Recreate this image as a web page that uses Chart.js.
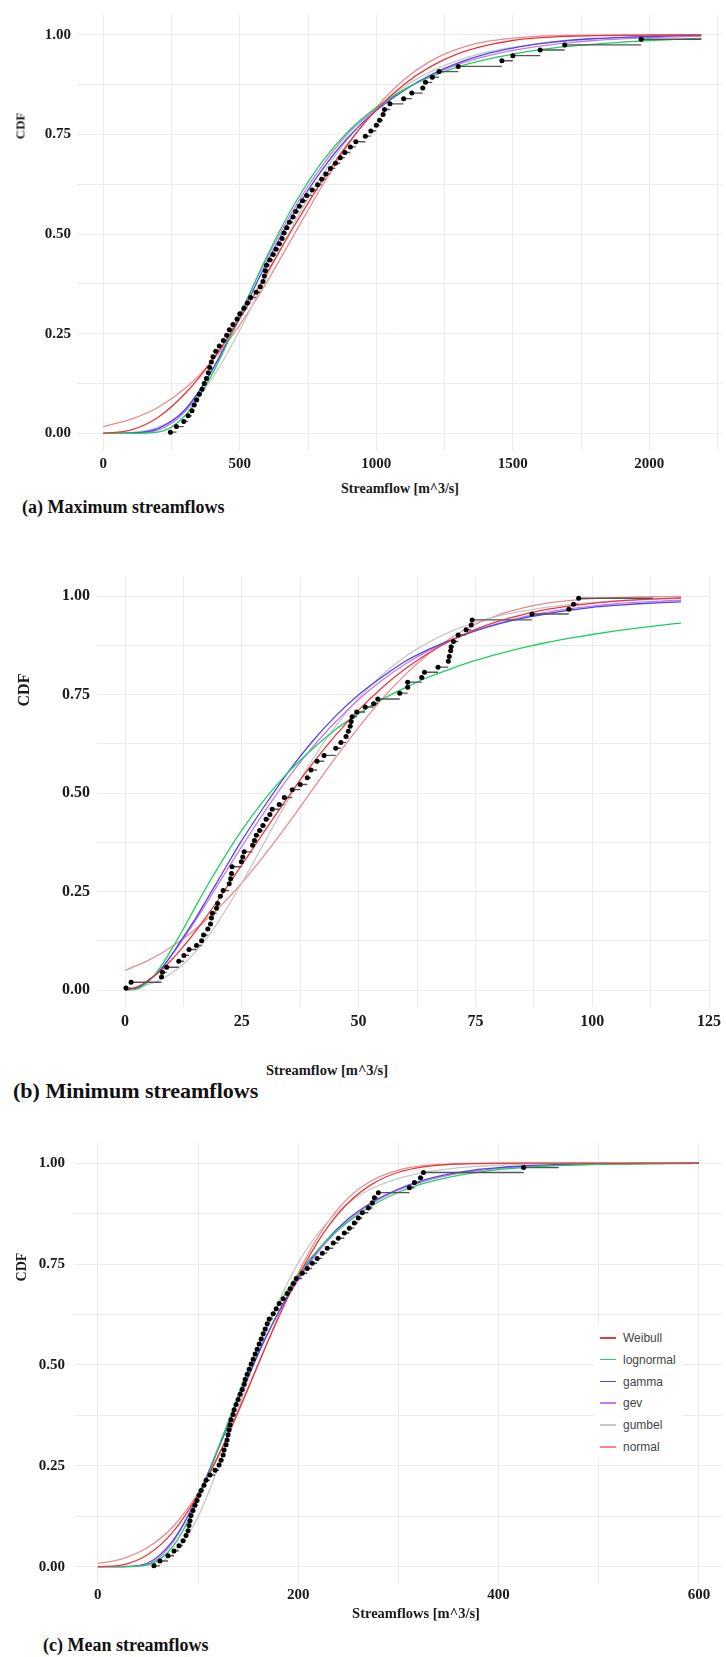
<!DOCTYPE html>
<html><head><meta charset="utf-8">
<script src="https://cdn.jsdelivr.net/npm/chart.js@4.4.0/dist/chart.umd.min.js"></script>
<style>
html,body{margin:0;padding:0;background:#fff;}
body{width:726px;height:1657px;position:relative;overflow:hidden;font-family:"Liberation Serif","Times New Roman",serif;}
canvas{position:absolute;left:0;}
.t{position:absolute;font-weight:bold;color:#1a1a1a;white-space:nowrap;line-height:1;transform:translate(-50%,-50%);}
.cap{position:absolute;font-weight:bold;color:#111;white-space:nowrap;line-height:1;transform:translateY(-50%);}
.rot{position:absolute;font-weight:bold;color:#1a1a1a;white-space:nowrap;line-height:1;transform:translate(-50%,-50%) rotate(-90deg);}
#legend{position:absolute;left:594px;top:1326px;width:88px;height:132px;background:#fff;font-family:"Liberation Sans",Arial,sans-serif;font-size:12px;color:#444;}
#legend .row{position:absolute;left:0;height:14px;}
#legend .ln{position:absolute;left:6px;top:6px;width:16px;height:1.5px;}
#legend .lb{position:absolute;left:29px;top:0;line-height:14px;}
</style>
</head><body>
<canvas id="cA" width="726" height="480" style="top:0px"></canvas>
<canvas id="cB" width="726" height="480" style="top:560px"></canvas>
<canvas id="cC" width="726" height="490" style="top:1124px"></canvas>

<div class="rot" style="left:20px;top:126px;font-size:13px">CDF</div>
<div class="t" style="left:400px;top:489px;font-size:14px">Streamflow [m^3/s]</div>
<div class="cap" style="left:22px;top:507px;font-size:18px">(a) Maximum streamflows</div>

<div class="rot" style="left:24px;top:690px;font-size:16px">CDF</div>
<div class="t" style="left:327px;top:1070px;font-size:14.5px">Streamflow [m^3/s]</div>
<div class="cap" style="left:13px;top:1091px;font-size:22px">(b) Minimum streamflows</div>

<div class="rot" style="left:22px;top:1267px;font-size:14px">CDF</div>
<div class="t" style="left:416px;top:1613px;font-size:14.5px">Streamflows [m^3/s]</div>
<div class="cap" style="left:43px;top:1645px;font-size:18px">(c) Mean streamflows</div>

<div id="legend"></div>

<script>
// ---------- shared ----------
const seriesNames  = ['Weibull','lognormal','gamma','gev','gumbel','normal'];
const seriesColors = ['#e8383d','#1fd05a','#4a48e8','#cc77ee','#c8c8c8','#ee8a8a'];
const yTickValues = [0,0.125,0.25,0.375,0.5,0.625,0.75,0.875,1];
const yTickLabels = ['0.00','','0.25','','0.50','','0.75','','1.00'];

// ---------- (a) maximum streamflows ----------
const maxGrid = [0,100,200,300,400,500,600,700,800,900,1000,1100,1200,1300,1400,1500,1600,1700,1800,1900,2000,2100,2190];
const maxWeibull   = [0,0.008,0.040,0.100,0.184,0.288,0.403,0.521,0.632,0.730,0.812,0.875,0.921,0.953,0.973,0.986,0.993,0.9965,0.998,0.999,0.9995,0.9998,0.9999];
const maxLognormal = [0,0,0.003,0.045,0.15,0.295,0.445,0.575,0.68,0.76,0.818,0.862,0.895,0.92,0.938,0.952,0.963,0.971,0.977,0.982,0.986,0.989,0.991];
const maxGamma     = [0,0.001,0.012,0.06,0.16,0.29,0.43,0.555,0.66,0.745,0.81,0.86,0.9,0.93,0.952,0.967,0.978,0.986,0.991,0.994,0.996,0.998,0.999];
const maxGev       = [0,0,0.008,0.055,0.16,0.3,0.44,0.565,0.67,0.755,0.815,0.862,0.898,0.926,0.946,0.961,0.972,0.98,0.986,0.99,0.993,0.995,0.997];
const maxGumbel    = [0.0001,0.0022,0.015,0.056,0.139,0.259,0.396,0.529,0.647,0.742,0.815,0.869,0.908,0.936,0.956,0.969,0.979,0.9855,0.990,0.9932,0.9953,0.9968,0.9978];
const maxNormal    = [0.017,0.035,0.065,0.113,0.182,0.272,0.381,0.5,0.619,0.728,0.818,0.887,0.935,0.965,0.983,0.992,0.997,0.999,0.9996,0.9999,1,1,1];
const maxObs = [246,268,295,311,325,333,342,352,362,370,378,385,390,396,402,412,425,440,452,462,475,490,500,515,528,540,560,575,585,590,594,598,610,622,633,645,655,662,672,682,695,705,718,730,745,765,785,800,815,832,850,868,885,905,925,960,980,1000,1012,1025,1030,1050,1100,1130,1170,1180,1205,1230,1300,1460,1500,1600,1690,1970];
const maxObsCdf = [0.003,0.017,0.030,0.044,0.057,0.071,0.084,0.098,0.111,0.125,0.138,0.152,0.165,0.179,0.192,0.206,0.219,0.233,0.246,0.260,0.273,0.287,0.300,0.314,0.327,0.341,0.354,0.368,0.381,0.395,0.408,0.422,0.435,0.449,0.462,0.476,0.489,0.503,0.516,0.530,0.543,0.557,0.570,0.584,0.597,0.611,0.624,0.638,0.651,0.665,0.678,0.692,0.705,0.719,0.732,0.746,0.759,0.773,0.786,0.800,0.813,0.827,0.840,0.854,0.867,0.881,0.894,0.908,0.921,0.935,0.948,0.962,0.975,0.989];
const maxObsEnd = 2190;
const maxXTicks = [0,250,500,750,1000,1250,1500,1750,2000,2250];
const maxXLabels = ['0','','500','','1000','','1500','','2000',''];

// ---------- (b) minimum streamflows ----------
const minGrid = [0,2.5,5,7.5,10,12.5,15,17.5,20,25,30,35,40,45,50,55,60,65,70,75,80,85,90,95,100,105,110,115,119];
const minWeibull   = [0,0.0076,0.0245,0.048,0.077,0.111,0.148,0.188,0.23,0.318,0.406,0.492,0.573,0.646,0.711,0.768,0.816,0.856,0.889,0.916,0.937,0.953,0.966,0.975,0.982,0.9876,0.9913,0.994,0.9956];
const minLognormal = [0,0.0026,0.021,0.057,0.104,0.156,0.21,0.263,0.313,0.406,0.486,0.554,0.611,0.661,0.702,0.738,0.768,0.795,0.817,0.837,0.854,0.869,0.882,0.893,0.903,0.912,0.92,0.927,0.932];
const minGamma     = [0,0.005,0.025,0.05,0.09,0.135,0.18,0.23,0.28,0.38,0.47,0.555,0.63,0.695,0.75,0.795,0.835,0.865,0.89,0.912,0.93,0.944,0.955,0.964,0.972,0.977,0.981,0.984,0.986];
const minGev       = [0,0.006,0.025,0.052,0.088,0.13,0.175,0.222,0.27,0.365,0.455,0.54,0.615,0.68,0.738,0.787,0.828,0.862,0.89,0.913,0.932,0.947,0.959,0.968,0.975,0.981,0.985,0.988,0.99];
const minGumbel    = [0.0034,0.0075,0.0146,0.026,0.043,0.066,0.0957,0.132,0.174,0.272,0.379,0.485,0.583,0.669,0.741,0.8,0.847,0.883,0.912,0.933,0.95,0.962,0.972,0.979,0.984,0.988,0.991,0.9935,0.995];
const minNormal    = [0.05,0.062,0.0755,0.0915,0.11,0.131,0.154,0.18,0.208,0.272,0.345,0.424,0.507,0.589,0.667,0.739,0.801,0.854,0.896,0.929,0.953,0.97,0.982,0.989,0.994,0.9967,0.9983,0.9991,0.9995];
const minObs = [0.2,1.3,7.8,8.0,8.9,11.5,12.6,13.7,15.3,16.4,16.8,17.7,18.3,18.5,18.7,19.6,19.8,20.4,21.0,22.3,22.6,22.8,22.9,24.9,25.2,25.5,27.3,27.7,28.1,28.8,29.5,30.2,31.0,31.5,33.0,34.1,35.8,37.5,39.0,39.8,41.1,42.6,45.1,46.2,47.3,47.8,48.2,48.4,48.6,49.6,51.4,53.2,54.1,58.8,60.5,60.5,63.5,64.1,67.0,69.2,69.4,69.7,69.8,70.3,71.3,73.0,74.1,74.3,87.1,95.0,96.0,97.1];
const minObsCdf = [0.005,0.02,0.033,0.045,0.058,0.073,0.088,0.103,0.113,0.125,0.14,0.155,0.168,0.183,0.195,0.208,0.22,0.238,0.253,0.27,0.283,0.296,0.313,0.326,0.338,0.351,0.368,0.38,0.393,0.405,0.418,0.434,0.446,0.459,0.471,0.489,0.509,0.522,0.539,0.559,0.581,0.596,0.614,0.629,0.644,0.657,0.67,0.682,0.694,0.706,0.719,0.727,0.739,0.754,0.769,0.782,0.794,0.807,0.82,0.835,0.847,0.862,0.872,0.885,0.902,0.915,0.927,0.94,0.955,0.967,0.98,0.995];
const minObsEnd = 113;
const minXTicks = [0,12.5,25,37.5,50,62.5,75,87.5,100,112.5,125];
const minXLabels = ['0','','25','','50','','75','','100','','125'];

// ---------- (c) mean streamflows ----------
const meanGrid = [0,25,50,75,100,125,150,175,200,225,250,275,300,325,350,375,400,425,450,475,500,525,550,575,600];
const meanWeibull   = [0,0.0046,0.030,0.086,0.178,0.300,0.443,0.588,0.719,0.826,0.902,0.950,0.9775,0.991,0.9968,0.999,0.9997,1,1,1,1,1,1,1,1];
const meanLognormal = [0,0,0.005,0.05,0.165,0.325,0.488,0.625,0.725,0.80,0.855,0.897,0.928,0.95,0.965,0.976,0.984,0.989,0.993,0.995,0.997,0.998,0.9986,0.999,0.9993];
const meanGamma     = [0,0.0003,0.009,0.065,0.175,0.32,0.47,0.605,0.715,0.80,0.862,0.905,0.936,0.958,0.973,0.983,0.989,0.993,0.996,0.9975,0.9985,0.999,0.9995,0.9997,0.9998];
const meanGev       = [0,0,0.006,0.06,0.175,0.325,0.475,0.605,0.71,0.795,0.858,0.902,0.933,0.955,0.97,0.98,0.987,0.991,0.994,0.996,0.9975,0.9985,0.999,0.9994,0.9996];
const meanGumbel    = [0,0.0001,0.0034,0.0316,0.123,0.28,0.463,0.626,0.753,0.842,0.901,0.939,0.962,0.977,0.986,0.9914,0.9948,0.9968,0.9981,0.9988,0.9993,0.9996,0.9997,0.9998,0.9999];
const meanNormal    = [0.0077,0.020,0.048,0.099,0.182,0.298,0.440,0.590,0.728,0.838,0.914,0.959,0.983,0.9938,0.998,0.9994,0.9999,1,1,1,1,1,1,1,1];
const meanObs = [56,62,70,76,81,85,88,90,91,92,93,95,97,99,101,103,106,108,112,117,121,123,125,126,128,129,130,131,132,133,135,136,138,140,142,144,146,147,149,151,153,155,157,159,161,163,165,167,169,171,175,178,181,185,189,192,195,198,204,209,214,219,224,229,235,240,246,251,256,260,264,270,274,276,280,311,316,322,325,425];
const meanObsCdf = [0.002,0.014,0.027,0.039,0.052,0.064,0.077,0.089,0.102,0.114,0.127,0.139,0.152,0.164,0.177,0.189,0.202,0.214,0.227,0.239,0.252,0.264,0.277,0.289,0.302,0.314,0.327,0.339,0.352,0.364,0.377,0.389,0.402,0.414,0.427,0.439,0.452,0.464,0.477,0.489,0.502,0.514,0.527,0.539,0.552,0.564,0.577,0.589,0.602,0.614,0.627,0.639,0.652,0.664,0.677,0.689,0.702,0.714,0.727,0.739,0.752,0.764,0.777,0.789,0.802,0.814,0.827,0.839,0.852,0.864,0.877,0.889,0.902,0.914,0.927,0.939,0.952,0.964,0.977,0.989];
const meanObsEnd = 460;
const meanXTicks = [0,100,200,300,400,500,600];
const meanXLabels = ['0','','200','','400','','600'];

// ---------- builder ----------
function pts(xs, ys){ return xs.map((x,i)=>({x:x, y:ys[i]})); }
function stepSegs(xs, ys, end){
  const out = [];
  for(let i=0;i<xs.length;i++){
    const nx = i < xs.length-1 ? xs[i+1] : end;
    out.push({x:xs[i], y:ys[i]}, {x:nx, y:ys[i]}, {x:nx, y:null});
  }
  return out;
}
const serifFont = '"Liberation Serif","Times New Roman",serif';

function build(id, o){
  const curves = o.curves.map((arr,k)=>({
    type:'line', label:seriesNames[k], data:pts(o.grid, arr),
    borderColor:seriesColors[k], borderWidth:1.3, pointRadius:0,
    cubicInterpolationMode:'monotone', fill:false, order:2+k
  }));
  const steps = {type:'line', label:'steps', data:stepSegs(o.obs, o.obsCdf, o.obsEnd),
    borderColor:'#555555', borderWidth:1.4, pointRadius:0, spanGaps:false, fill:false, order:1};
  const dots = {type:'scatter', label:'ecdf', data:pts(o.obs, o.obsCdf),
    backgroundColor:'#000', borderColor:'#000', pointRadius:2.5, borderWidth:0, order:0};
  return new Chart(document.getElementById(id), {
    type:'scatter',
    data:{datasets:[dots, steps, ...curves]},
    options:{
      responsive:false, animation:false, devicePixelRatio:1,
      layout:{padding:{top:o.padTop, right:o.padRight, left:0, bottom:0}},
      plugins:{legend:{display:false}, tooltip:{enabled:false}},
      scales:{
        x:{type:'linear', min:o.xMin, max:o.xMax,
          afterBuildTicks:(s)=>{ s.ticks = o.xTicks.map(v=>({value:v})); },
          afterFit:(s)=>{ s.height = o.xH; },
          ticks:{callback:(v,i)=>o.xLabels[i], padding:o.xPad, maxRotation:0, autoSkip:false,
            color:'#1a1a1a', font:{family:serifFont, weight:'bold', size:o.tickSize}},
          grid:{color:'#ebebeb', lineWidth:1, drawTicks:false},
          border:{display:false}
        },
        y:{type:'linear', min:-0.043, max:1.05,
          afterBuildTicks:(s)=>{ s.ticks = yTickValues.map(v=>({value:v})); },
          afterFit:(s)=>{ s.width = o.yW; },
          ticks:{callback:(v,i)=>yTickLabels[i], padding:o.yPad, autoSkip:false,
            color:'#1a1a1a', font:{family:serifFont, weight:'bold', size:o.tickSize}},
          grid:{color:'#ebebeb', lineWidth:1, drawTicks:false},
          border:{display:false}
        }
      }
    }
  });
}

build('cA', {grid:maxGrid, curves:[maxWeibull,maxLognormal,maxGamma,maxGev,maxGumbel,maxNormal],
  obs:maxObs, obsCdf:maxObsCdf, obsEnd:maxObsEnd, xTicks:maxXTicks, xLabels:maxXLabels,
  xMin:-96, xMax:2266, padTop:5, padRight:0, xH:29.5, yW:77, xPad:5, yPad:6, tickSize:15});
build('cB', {grid:minGrid, curves:[minWeibull,minLognormal,minGamma,minGev,minGumbel,minNormal],
  obs:minObs, obsCdf:minObsCdf, obsEnd:minObsEnd, xTicks:minXTicks, xLabels:minXLabels,
  xMin:-6, xMax:125, padTop:11, padRight:14, xH:33, yW:97, xPad:5, yPad:7, tickSize:16});
build('cC', {grid:meanGrid, curves:[meanWeibull,meanLognormal,meanGamma,meanGev,meanGumbel,meanNormal],
  obs:meanObs, obsCdf:meanObsCdf, obsEnd:meanObsEnd, xTicks:meanXTicks, xLabels:meanXLabels,
  xMin:-22.8, xMax:623, padTop:10.5, padRight:0, xH:30, yW:75, xPad:2, yPad:10, tickSize:15});

// legend (panel c)
const lg = document.getElementById('legend');
seriesNames.forEach((n,k)=>{
  const r = document.createElement('div'); r.className='row'; r.style.top = (5 + k*21.8)+'px';
  const l = document.createElement('div'); l.className='ln'; l.style.background = seriesColors[k];
  const b = document.createElement('div'); b.className='lb'; b.textContent = n;
  r.appendChild(l); r.appendChild(b); lg.appendChild(r);
});
</script>
</body></html>
